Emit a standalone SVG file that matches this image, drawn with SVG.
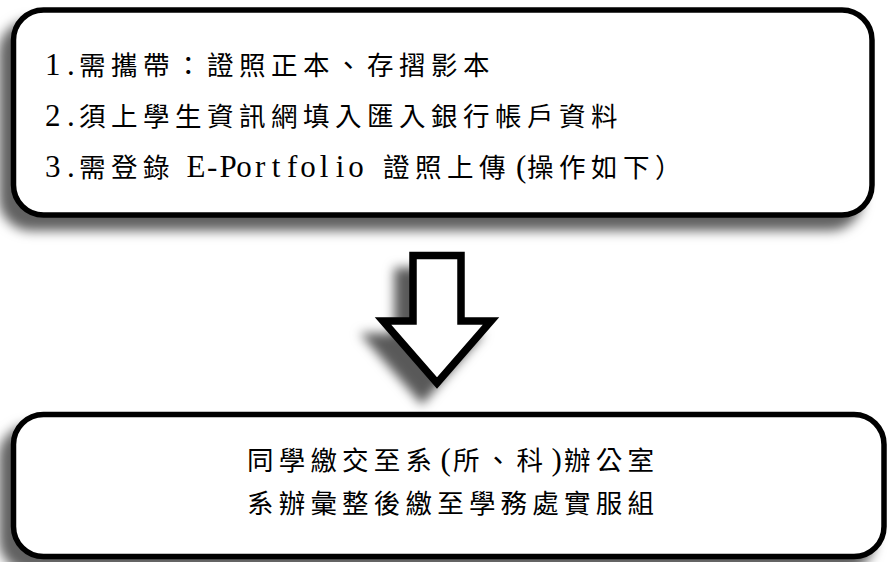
<svg xmlns="http://www.w3.org/2000/svg" width="890" height="562" viewBox="0 0 890 562">
  <style>
    .box { fill: #ffffff; stroke: #000000; stroke-width: 5.5; }
    .arrow { fill: #ffffff; stroke: #000000; stroke-width: 7.5; stroke-linejoin: miter; stroke-miterlimit: 10; }
    .cj { font-family: "Noto Sans CJK TC", "Noto Sans CJK SC", sans-serif; font-size: 26.5px; letter-spacing: 5.5px; fill: #000; }
    .cjb { font-family: "Noto Sans CJK TC", "Noto Sans CJK SC", sans-serif; font-size: 26.5px; letter-spacing: 5.2px; fill: #000; }
    .lt { font-family: "Liberation Serif", "Times New Roman", serif; font-size: 31px; fill: #000; letter-spacing: 0px; }
  </style>
  <defs>
    <filter id="shadow" x="-10%" y="-20%" width="120%" height="150%">
      <feGaussianBlur in="SourceAlpha" stdDeviation="6" result="b"/>
      <feOffset in="b" dx="-12" dy="13" result="o"/>
      <feFlood flood-color="#000000" flood-opacity="0.62" result="f"/>
      <feComposite in="f" in2="o" operator="in" result="s"/>
      <feMerge>
        <feMergeNode in="s"/>
        <feMergeNode in="SourceGraphic"/>
      </feMerge>
    </filter>
    <filter id="ashadow" x="-40%" y="-30%" width="180%" height="170%">
      <feGaussianBlur in="SourceAlpha" stdDeviation="5.5" result="b"/>
      <feOffset in="b" dx="-15" dy="16" result="o"/>
      <feFlood flood-color="#000000" flood-opacity="0.65" result="f"/>
      <feComposite in="f" in2="o" operator="in" result="s"/>
      <feMerge>
        <feMergeNode in="s"/>
        <feMergeNode in="SourceGraphic"/>
      </feMerge>
    </filter>
  </defs>
  <rect width="890" height="562" fill="#ffffff"/>

  <g id="node-requirements">
    <rect class="box" x="13.5" y="10" width="858.5" height="205" rx="30" ry="30" filter="url(#shadow)"/>
    <text y="75"><tspan class="lt" x="45 67">1.</tspan><tspan class="cj" x="79">需攜帶：證照正本、存摺影本</tspan></text>
    <text y="126"><tspan class="lt" x="45 67">2.</tspan><tspan class="cj" x="79">須上學生資訊網填入匯入銀行帳戶資料</tspan></text>
    <text y="177"><tspan class="lt" x="45 67">3.</tspan><tspan class="cj" x="79">需登錄</tspan><tspan class="lt" x="186.5 206.9 219.4 236.3 254.9 271.7 286.9 300.3 319.7 335.7 348.3">E-Portfolio</tspan><tspan class="cj" x="383">證照上傳</tspan><tspan class="lt" x="516">(</tspan><tspan class="cj" x="527">操作如下）</tspan></text>
  </g>

  <g id="connectors">
    <polygon class="arrow" points="413,255.5 461,255.5 461,321 491,321 437,383 383,321 413,321" filter="url(#ashadow)"/>
  </g>

  <g id="node-submit">
    <rect class="box" x="13.5" y="414.5" width="870.5" height="142" rx="30" ry="30" filter="url(#shadow)"/>
    <text y="470"><tspan class="cjb" x="247">同學繳交至系</tspan><tspan class="lt" x="440.5">(</tspan><tspan class="cjb" x="453">所、科</tspan><tspan class="lt" x="551.5">)</tspan><tspan class="cjb" x="564">辦公室</tspan></text>
    <text y="513"><tspan class="cjb" x="247">系辦彙整後繳至學務處實服組</tspan></text>
  </g>
</svg>
